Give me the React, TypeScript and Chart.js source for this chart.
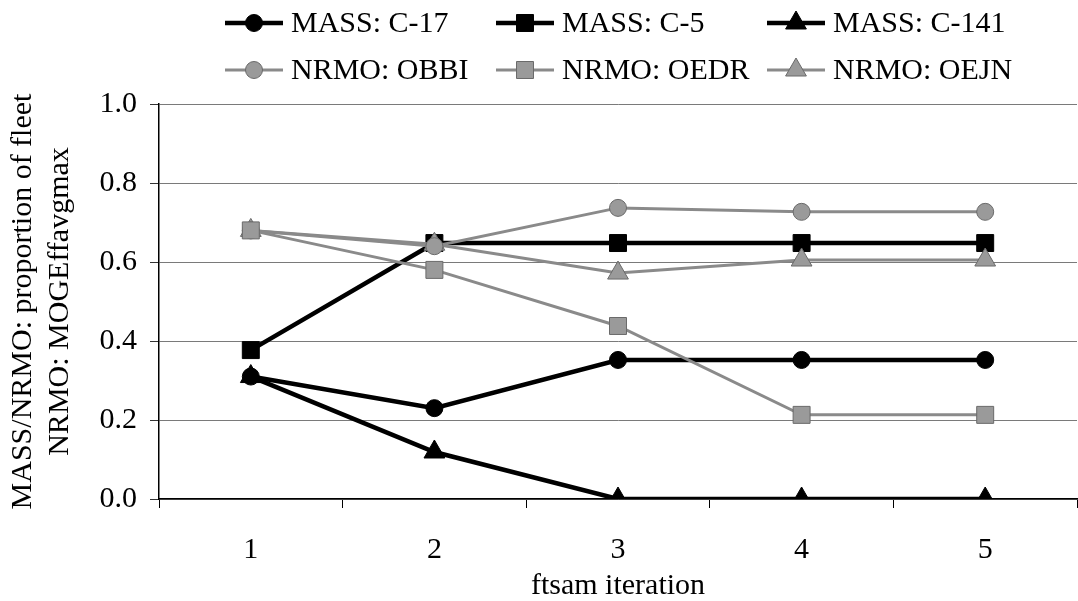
import React, { useEffect, useRef } from 'react';
import { Chart, registerables } from 'chart.js';

Chart.register(...registerables);

const iterations = ['1', '2', '3', '4', '5'];
const massC17 = [0.31, 0.23, 0.352, 0.352, 0.352];
const massC5 = [0.377, 0.648, 0.648, 0.648, 0.648];
const massC141 = [0.31, 0.119, 0, 0, 0];
const nrmoOBBI = [0.68, 0.64, 0.737, 0.727, 0.727];
const nrmoOEDR = [0.68, 0.58, 0.438, 0.213, 0.213];
const nrmoOEJN = [0.68, 0.645, 0.572, 0.605, 0.605];
const seriesNames = ['MASS: C-17', 'MASS: C-5', 'MASS: C-141', 'NRMO: OBBI', 'NRMO: OEDR', 'NRMO: OEJN'];
const xTitle = 'ftsam iteration';
const yTitle = ['MASS/NRMO: proportion of fleet', 'NRMO: MOGEffavgmax'];

const FONT = '"Liberation Serif", "Times New Roman", Times, serif';
const BLACK = '#000000';
const GRAY_LINE = '#8a8a8a';
const GRAY_FILL = '#9a9a9a';
const GRAY_EDGE = '#6a6a6a';

function drawMarker(ctx: CanvasRenderingContext2D, style: string, x: number, y: number, r: number, fill: string, edge: string) {
  ctx.save();
  ctx.fillStyle = fill;
  ctx.strokeStyle = edge;
  ctx.lineWidth = 1;
  ctx.beginPath();
  if (style === 'circle') {
    ctx.arc(x, y, r, 0, Math.PI * 2);
  } else if (style === 'rect') {
    const s = r * Math.SQRT1_2;
    ctx.rect(x - s, y - s, 2 * s, 2 * s);
  } else {
    let rad = 0;
    ctx.moveTo(x + Math.sin(rad) * r, y - Math.cos(rad) * r);
    rad += (2 * Math.PI) / 3;
    ctx.lineTo(x + Math.sin(rad) * r, y - Math.cos(rad) * r);
    rad += (2 * Math.PI) / 3;
    ctx.lineTo(x + Math.sin(rad) * r, y - Math.cos(rad) * r);
    ctx.closePath();
  }
  ctx.fill();
  ctx.stroke();
  ctx.restore();
}

const legendPlugin = {
  id: 'gridLegend',
  afterDraw(chart: any) {
    const ctx: CanvasRenderingContext2D = chart.ctx;
    const colX = [225, 496, 767];
    const rowY = [23, 70];
    chart.data.datasets.forEach((ds: any, i: number) => {
      const x0 = colX[i % 3];
      const y = rowY[Math.floor(i / 3)];
      ctx.save();
      ctx.strokeStyle = ds.borderColor;
      ctx.lineWidth = ds.borderWidth;
      ctx.beginPath();
      ctx.moveTo(x0, y);
      ctx.lineTo(x0 + 58, y);
      ctx.stroke();
      ctx.restore();
      drawMarker(ctx, ds.pointStyle, x0 + 29, y, ds.pointRadius, ds.pointBackgroundColor, ds.pointBorderColor);
      ctx.save();
      ctx.fillStyle = '#000';
      ctx.font = `30px ${FONT}`;
      ctx.textBaseline = 'middle';
      ctx.textAlign = 'left';
      ctx.fillText(ds.label, x0 + 66, y + 1);
      ctx.restore();
    });
  },
};

function makeDataset(label: string, data: number[], style: string, gray: boolean, order: number) {
  const r = style === 'circle' ? 8.5 : 12;
  return {
    label,
    data,
    order,
    borderColor: gray ? GRAY_LINE : BLACK,
    borderWidth: gray ? 3 : 4.5,
    pointStyle: style,
    pointRadius: r,
    pointHoverRadius: r,
    pointBackgroundColor: gray ? GRAY_FILL : BLACK,
    pointBorderColor: gray ? GRAY_EDGE : BLACK,
    pointBorderWidth: 1,
    tension: 0,
    fill: false,
  };
}

export default function App() {
  const canvasRef = useRef<HTMLCanvasElement | null>(null);

  useEffect(() => {
    let chart: Chart | null = null;
    let cancelled = false;
    const build = () => {
      if (cancelled || !canvasRef.current) return;
      chart = new Chart(canvasRef.current, {
        type: 'line',
        data: {
          labels: iterations,
          datasets: [
            makeDataset(seriesNames[0], massC17, 'circle', false, 4),
            makeDataset(seriesNames[1], massC5, 'rect', false, 3),
            makeDataset(seriesNames[2], massC141, 'triangle', false, 5),
            makeDataset(seriesNames[3], nrmoOBBI, 'circle', true, 1),
            makeDataset(seriesNames[4], nrmoOEDR, 'rect', true, 0),
            makeDataset(seriesNames[5], nrmoOEJN, 'triangle', true, 2),
          ] as any,
        },
        options: {
          responsive: false,
          animation: false,
          layout: { padding: { top: 104, right: 3, bottom: 0, left: 0 } },
          plugins: {
            legend: { display: false },
            tooltip: { enabled: false },
          },
          scales: {
            x: {
              type: 'category',
              offset: true,
              afterFit: (scale: any) => { scale.height = 102; },
              grid: {
                offset: true,
                drawOnChartArea: false,
                drawTicks: true,
                tickLength: 9,
                tickColor: '#000',
                tickWidth: 1,
              },
              border: { color: '#000', width: 1.5 },
              ticks: {
                color: '#000',
                padding: 24,
                font: { family: FONT, size: 30, lineHeight: 1.2 },
              },
              title: {
                display: true,
                text: xTitle,
                color: '#000',
                padding: { top: 0, bottom: 0 },
                font: { family: FONT, size: 30, lineHeight: 1 },
              },
            },
            y: {
              min: 0,
              max: 1,
              afterFit: (scale: any) => { scale.width = 159; },
              grid: {
                color: '#7a7a7a',
                lineWidth: 1,
                drawTicks: true,
                tickLength: 9,
                tickColor: '#333',
              },
              border: { color: '#000', width: 1.5 },
              ticks: {
                stepSize: 0.2,
                color: '#000',
                padding: 13,
                font: { family: FONT, size: 30, lineHeight: 1.2 },
                callback: (v: any) => Number(v).toFixed(1),
              },
              title: {
                display: true,
                text: yTitle,
                color: '#000',
                padding: { top: 4.5, bottom: 0 },
                font: { family: FONT, size: 30, lineHeight: 1.233 },
              },
            },
          },
        } as any,
        plugins: [legendPlugin],
      });
    };
    const fonts: any = (document as any).fonts;
    if (fonts && fonts.load) {
      Promise.all([
        fonts.load('30px "Liberation Serif"'),
        fonts.load('30px "Times New Roman"'),
      ]).catch(() => null).then(build);
    } else {
      build();
    }
    return () => {
      cancelled = true;
      if (chart) chart.destroy();
    };
  }, []);

  return (
    <div style={{ position: 'fixed', left: 0, top: 0, width: 1078, height: 601, overflow: 'hidden', background: '#fff' }}>
      <span style={{ position: 'absolute', left: -1000, top: 0, fontFamily: FONT, fontSize: 30 }}>MASS</span>
      <canvas ref={canvasRef} width={1090} height={601} style={{ display: 'block', width: 1090, height: 601 }} />
    </div>
  );
}
